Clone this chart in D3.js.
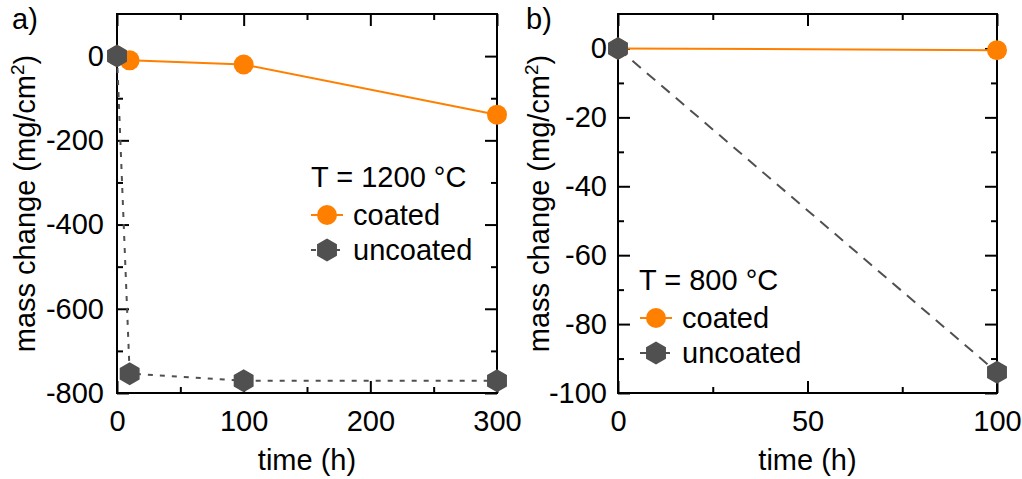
<!DOCTYPE html>
<html>
<head>
<meta charset="utf-8">
<script src="https://cdn.jsdelivr.net/npm/d3@7"></script>
<style>
  body { margin: 0; background: #fff; }
  svg text { font-family: "Liberation Sans", Arial, sans-serif; fill: #000; }
</style>
</head>
<body>
<svg id="chart" width="1022" height="479"></svg>
<script>
// panel a) T = 1200 °C
var timeA = [0, 10, 100, 300];
var coatedA = [0, -10, -20, -139];
var uncoatedA = [0, -754, -771, -771];
// panel b) T = 800 °C
var timeB = [0, 100];
var coatedB = [0, -0.5];
var uncoatedB = [0, -94];

var xMajorA = [0, 100, 200, 300], xMinorA = [50, 150, 250];
var yMajorA = [-800, -600, -400, -200, 0], yMinorA = [-700, -500, -300, -100];
var xMajorB = [0, 50, 100], xMinorB = [25, 75];
var yMajorB = [-100, -80, -60, -40, -20, 0], yMinorB = [-90, -70, -50, -30, -10];

var orange = "#ff8000", grey = "#505050";
var fs = 29;

var svg = d3.select("#chart");
svg.append("rect").attr("width", 1022).attr("height", 479).attr("fill", "#fff");

// pointy-top hexagon path around 0,0
function hexPath(r) {
    var pts = d3.range(6).map(function(i) {
        var a = Math.PI / 3 * i - Math.PI / 2;
        return [r * Math.cos(a), r * Math.sin(a)];
    });
    return "M" + pts.join("L") + "Z";
}

function panel(opt) {
    var x = d3.scaleLinear().domain(opt.xDomain).range([opt.left, opt.right]);
    var y = d3.scaleLinear().domain(opt.yDomain).range([opt.bottom, opt.top]);
    var g = svg.append("g");

    // major + minor ticks, all four sides, pointing inward
    function ax(axisFn, scale, ticks, size, labels, tr) {
        var a = axisFn(scale).tickValues(ticks).tickSize(-size).tickPadding(labels ? opt.pad : 0);
        if (!labels) a.tickFormat("");
        var s = g.append("g").attr("transform", tr).call(a);
        s.select(".domain").remove();
        s.selectAll("line").attr("stroke", "#000").attr("stroke-width", 2);
        s.selectAll("text").attr("font-size", fs).attr("fill", "#000")
            .text(function(d) { return labels ? String(d) : ""; });
        return s;
    }
    var xb = ax(d3.axisBottom, x, opt.xMajor, 12, true, "translate(0," + opt.bottom + ")");
    xb.selectAll("text").attr("y", 17);
    ax(d3.axisBottom, x, opt.xMinor, 6, false, "translate(0," + opt.bottom + ")");
    ax(d3.axisTop, x, opt.xMajor, 12, false, "translate(0," + opt.top + ")");
    ax(d3.axisTop, x, opt.xMinor, 6, false, "translate(0," + opt.top + ")");
    ax(d3.axisLeft, y, opt.yMajor, 12, true, "translate(" + opt.left + ",0)");
    ax(d3.axisLeft, y, opt.yMinor, 6, false, "translate(" + opt.left + ",0)");
    ax(d3.axisRight, y, opt.yMajor, 12, false, "translate(" + opt.right + ",0)");
    ax(d3.axisRight, y, opt.yMinor, 6, false, "translate(" + opt.right + ",0)");

    g.append("rect")
        .attr("x", opt.left).attr("y", opt.top)
        .attr("width", opt.right - opt.left).attr("height", opt.bottom - opt.top)
        .attr("fill", "none").attr("stroke", "#000").attr("stroke-width", 2);

    var line = d3.line().x(function(d) { return x(d[0]); }).y(function(d) { return y(d[1]); });
    var cPts = d3.zip(opt.time, opt.coated);
    var uPts = d3.zip(opt.time, opt.uncoated);

    g.append("path").datum(cPts).attr("d", line)
        .attr("fill", "none").attr("stroke", orange).attr("stroke-width", 2);
    g.append("path").datum(uPts).attr("d", line)
        .attr("fill", "none").attr("stroke", grey).attr("stroke-width", 2)
        .attr("stroke-dasharray", opt.dash);

    g.selectAll(".cpt").data(cPts).enter().append("circle")
        .attr("cx", function(d) { return x(d[0]); })
        .attr("cy", function(d) { return y(d[1]); })
        .attr("r", 10).attr("fill", orange);
    g.selectAll(".upt").data(uPts).enter().append("path")
        .attr("d", hexPath(11.5))
        .attr("transform", function(d) { return "translate(" + x(d[0]) + "," + y(d[1]) + ")"; })
        .attr("fill", grey);

    // axis titles
    g.append("text").attr("x", (opt.left + opt.right) / 2).attr("y", 470)
        .attr("text-anchor", "middle").attr("font-size", fs).text("time (h)");
    var yt = g.append("text")
        .attr("transform", "translate(" + opt.ylabX + "," + (opt.top + opt.bottom) / 2 + ") rotate(-90)")
        .attr("text-anchor", "middle").attr("font-size", fs);
    yt.append("tspan").text("mass change (mg/cm");
    yt.append("tspan").attr("font-size", 19).attr("dy", -11).text("2");
    yt.append("tspan").attr("dy", 11).text(")");

    g.append("text").attr("x", opt.tagX).attr("y", 29).attr("font-size", fs).text(opt.tag);

    // legend
    var L = opt.legend;
    g.append("text").attr("x", L.x).attr("y", L.y).attr("font-size", fs).text(opt.title);
    var rows = [
        { name: "coated", color: orange, dash: null, shape: "circle" },
        { name: "uncoated", color: grey, dash: opt.dash, shape: "hex" }
    ];
    rows.forEach(function(r, i) {
        var cy = L.y + 28 + i * 35;
        g.append("line").attr("x1", L.mx - 16).attr("x2", L.mx + 16)
            .attr("y1", cy).attr("y2", cy)
            .attr("stroke", r.color).attr("stroke-width", 2)
            .attr("stroke-dasharray", r.dash);
        if (r.shape == "circle")
            g.append("circle").attr("cx", L.mx).attr("cy", cy).attr("r", 10).attr("fill", r.color);
        else
            g.append("path").attr("d", hexPath(11.5))
                .attr("transform", "translate(" + L.mx + "," + cy + ")").attr("fill", r.color);
        g.append("text").attr("x", L.mx + 26).attr("y", cy + 10).attr("font-size", fs).text(r.name);
    });
}

panel({
    left: 117, right: 497, top: 14, bottom: 393, pad: 13,
    xDomain: [0, 300], yDomain: [-800, 100],
    xMajor: xMajorA, xMinor: xMinorA, yMajor: yMajorA, yMinor: yMinorA,
    time: timeA, coated: coatedA, uncoated: uncoatedA,
    dash: "5,7", ylabX: 35, tag: "a)", tagX: 12,
    title: "T = 1200 °C", legend: { x: 311, y: 187, mx: 327 }
});

panel({
    left: 618, right: 997, top: 14, bottom: 393, pad: 11,
    xDomain: [0, 100], yDomain: [-100, 10],
    xMajor: xMajorB, xMinor: xMinorB, yMajor: yMajorB, yMinor: yMinorB,
    time: timeB, coated: coatedB, uncoated: uncoatedB,
    dash: "11,8", ylabX: 549, tag: "b)", tagX: 526,
    title: "T = 800 °C", legend: { x: 639, y: 290, mx: 656 }
});
</script>
</body>
</html>
